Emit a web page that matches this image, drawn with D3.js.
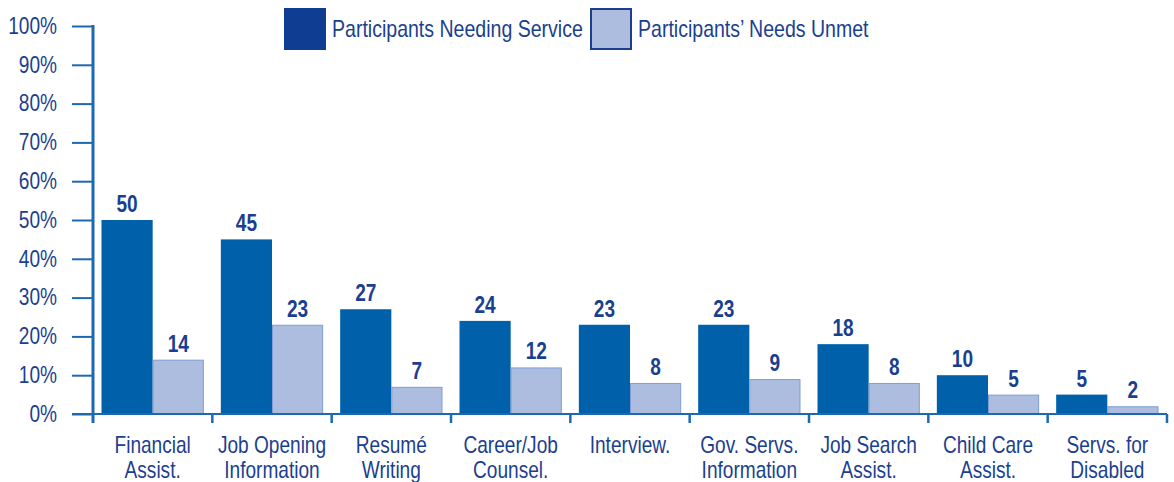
<!DOCTYPE html>
<html>
<head>
<meta charset="utf-8">
<script src="https://cdn.jsdelivr.net/npm/d3@7"></script>
<style>
  html, body { margin: 0; padding: 0; background: #ffffff; }
  svg { display: block; }
  text { font-family: "Liberation Sans", Arial, sans-serif; }
</style>
</head>
<body>
<svg id="chart" width="1174" height="482"></svg>
<script>
// Services, split over two lines for the axis labels
const categories = [
  ["Financial", "Assist."],
  ["Job Opening", "Information"],
  ["Resumé", "Writing"],
  ["Career/Job", "Counsel."],
  ["Interview.", ""],
  ["Gov. Servs.", "Information"],
  ["Job Search", "Assist."],
  ["Child Care", "Assist."],
  ["Servs. for", "Disabled"]
];
const seriesNames = ["Participants Needing Service", "Participants’ Needs Unmet"];
const needingService = [50, 45, 27, 24, 23, 23, 18, 10, 5];
const needsUnmet = [14, 23, 7, 12, 8, 9, 8, 5, 2];
const yTicks = [0, 10, 20, 30, 40, 50, 60, 70, 80, 90, 100];

const navy = "#1b3f8f";
const axisBlue = "#1d69b1";
const darkBar = "#0060a9";
const lightBar = "#adbde0";
const lightStroke = "#7f9dd2";
const squeeze = 0.83;   // narrow lettering, drawn by compressing a regular sans horizontally

const svg = d3.select("#chart");
const keys = categories.map((c, i) => i);

const x0 = d3.scaleBand().domain(keys).range([93, 1167]).padding(0);
const x1 = d3.scaleBand().domain([0, 1])
  .range([8.5, x0.bandwidth() - 8.5]).padding(0);
const y = d3.scaleLinear().domain([0, 100]).range([414, 26]);

const narrow = (x, yy, k = squeeze) => `translate(${x},${yy}) scale(${k},1)`;

// Bars
const series = [
  { values: needingService, fill: darkBar, stroke: "none" },
  { values: needsUnmet, fill: lightBar, stroke: lightStroke }
];
series.forEach((s, si) => {
  const inset = si === 1 ? 0.5 : 0;
  svg.append("g").selectAll("rect").data(s.values).join("rect")
    .attr("x", (d, i) => x0(i) + x1(si) + inset)
    .attr("y", d => y(d) + inset)
    .attr("width", x1.bandwidth() - 2 * inset)
    .attr("height", d => y(0) - y(d) - inset)
    .attr("fill", s.fill)
    .attr("stroke", s.stroke)
    .attr("stroke-width", 1);

  svg.append("g").selectAll("text").data(s.values).join("text")
    .attr("transform", (d, i) => narrow(x0(i) + x1(si) + x1.bandwidth() / 2, y(d) - 8))
    .attr("text-anchor", "middle")
    .attr("font-size", 23)
    .attr("font-weight", "bold")
    .attr("fill", navy)
    .text(d => d);
});

// Y axis: ticks to the left, labels as percentages
const yAxis = d3.axisLeft(y).tickValues(yTicks)
  .tickSize(21).tickPadding(15)
  .tickFormat(d => d + "%");
const gy = svg.append("g").attr("transform", "translate(93,0)").call(yAxis);
gy.select(".domain").remove();
gy.selectAll(".tick line").attr("stroke", axisBlue).attr("stroke-width", 2);
gy.selectAll(".tick text")
  .attr("font-size", 23)
  .attr("fill", navy)
  .attr("font-family", null)
  .attr("x", null)
  .attr("transform", narrow(-36, 0));

// Baseline across the plot
svg.append("line")
  .attr("x1", 72).attr("x2", 1167)
  .attr("y1", y(0)).attr("y2", y(0))
  .attr("stroke", axisBlue).attr("stroke-width", 2);

// Vertical axis line
svg.append("line")
  .attr("x1", 93).attr("x2", 93)
  .attr("y1", y(100) - 1).attr("y2", 423)
  .attr("stroke", axisBlue).attr("stroke-width", 3);

// Category separators below the baseline
const bounds = keys.map(i => x0(i) + x0.bandwidth());
svg.append("g").selectAll("line").data(bounds).join("line")
  .attr("x1", d => d).attr("x2", d => d)
  .attr("y1", y(0)).attr("y2", 423)
  .attr("stroke", axisBlue).attr("stroke-width", 2.5);

// Category labels
const labels = svg.append("g").selectAll("text").data(categories).join("text")
  .attr("text-anchor", "middle")
  .attr("font-size", 23)
  .attr("fill", navy)
  .attr("transform", (d, i) => narrow(x0(i) + x0.bandwidth() / 2, 0));
labels.selectAll("tspan").data(d => d).join("tspan")
  .attr("x", 0)
  .attr("y", (d, j) => 453 + j * 25)
  .text(d => d);

// Legend
const legendItems = [
  { name: seriesNames[0], x: 284, fill: "#0e3d91", stroke: "none" },
  { name: seriesNames[1], x: 590, fill: lightBar, stroke: "#1b3f8f" }
];
const lg = svg.append("g").selectAll("g").data(legendItems).join("g")
  .attr("transform", d => `translate(${d.x},8)`);
lg.append("rect")
  .attr("x", d => d.stroke === "none" ? 0 : 1)
  .attr("y", d => d.stroke === "none" ? 0 : 1)
  .attr("width", d => d.stroke === "none" ? 42 : 40)
  .attr("height", d => d.stroke === "none" ? 42 : 40)
  .attr("fill", d => d.fill)
  .attr("stroke", d => d.stroke)
  .attr("stroke-width", 2);
lg.append("text")
  .attr("transform", narrow(48, 29, 0.85))
  .attr("font-size", 23)
  .attr("fill", navy)
  .text(d => d.name);
</script>
</body>
</html>
